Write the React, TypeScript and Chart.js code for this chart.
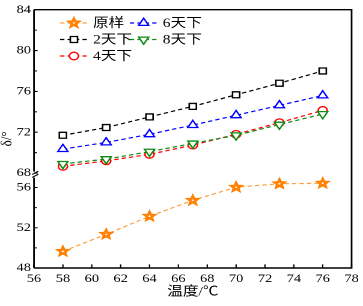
import React, { useEffect, useRef } from "react";
import { Chart, registerables } from "chart.js";

Chart.register(...registerables);

// ---- data ----
const temperatures = [58, 61, 64, 67, 70, 73, 76];
const original = [49.65, 51.35, 53.14, 54.72, 56.03, 56.37, 56.42];
const day2 = [71.7, 72.46, 73.5, 74.53, 75.67, 76.8, 78.0];
const day4 = [68.66, 69.2, 69.83, 70.74, 71.8, 72.94, 74.14];
const day6 = [70.35, 71.0, 71.8, 72.7, 73.66, 74.63, 75.6];
const day8 = [68.9, 69.37, 70.1, 70.9, 71.7, 72.75, 73.78];

const seriesLabels = ["原样", "2天下", "4天下", "6天下", "8天下"];
const xTickValues = [56, 58, 60, 62, 64, 66, 68, 70, 72, 74, 76, 78];
const upperTickValues = [68, 72, 76, 80, 84];
const upperMinorTicks = [70, 74, 78, 82];
const lowerTickValues = [48, 52, 56];
const lowerMinorTicks = [50, 54];
const xTitle = "温度/℃";
const yTitle = "δ/°";

// ---- styles ----
const W = 302;
const H = 306;
const SX = 363 / W;
const FONT = "'Liberation Serif', 'Noto Sans CJK SC', serif";
const ORANGE_LINE = "#FFA040";
const ORANGE = "#FF8000";
const BLACK = "#000000";
const RED = "#FF0000";
const BLUE = "#0000FF";
const GREEN = "#108A10";
const DASH = [3.6, 2.6];

function toPoints(arr: number[]) {
  return temperatures.map((t, i) => ({ x: t, y: arr[i] }));
}

function starPath(ctx: CanvasRenderingContext2D, x: number, y: number, R: number, r: number) {
  ctx.beginPath();
  for (let i = 0; i < 10; i++) {
    const a = -Math.PI / 2 + (i * Math.PI) / 5;
    const rad = i % 2 === 0 ? R : r;
    const px = x + rad * Math.cos(a);
    const py = y + rad * Math.sin(a);
    if (i === 0) ctx.moveTo(px, py);
    else ctx.lineTo(px, py);
  }
  ctx.closePath();
}

function drawStar(ctx: CanvasRenderingContext2D, x: number, y: number) {
  ctx.save();
  ctx.setLineDash([]);
  starPath(ctx, x, y, 5.2, 2.3);
  ctx.fillStyle = "#FFFFFF";
  ctx.fill();
  ctx.lineWidth = 1.5;
  ctx.strokeStyle = ORANGE;
  ctx.lineJoin = "miter";
  ctx.stroke();
  starPath(ctx, x, y, 2.4, 1.1);
  ctx.lineWidth = 0.9;
  ctx.stroke();
  ctx.restore();
}

function drawMarker(ctx: CanvasRenderingContext2D, kind: string, x: number, y: number, color: string) {
  if (kind === "star") {
    drawStar(ctx, x, y);
    return;
  }
  ctx.save();
  ctx.setLineDash([]);
  ctx.strokeStyle = color;
  ctx.fillStyle = "#FFFFFF";
  ctx.lineWidth = 1.3;
  ctx.beginPath();
  if (kind === "rect") {
    const h = 3;
    ctx.rect(x - h, y - h, 2 * h, 2 * h);
  } else if (kind === "circle") {
    ctx.arc(x, y, 3.8, 0, Math.PI * 2);
  } else if (kind === "triangle" || kind === "invtriangle") {
    const r = 4.8;
    let a = kind === "triangle" ? 0 : Math.PI;
    for (let i = 0; i < 3; i++) {
      const px = x + Math.sin(a) * r;
      const py = y - Math.cos(a) * r;
      if (i === 0) ctx.moveTo(px, py);
      else ctx.lineTo(px, py);
      a += (2 * Math.PI) / 3;
    }
    ctx.closePath();
  }
  ctx.fill();
  ctx.stroke();
  ctx.restore();
}

const legendItems = [
  { label: seriesLabels[0], kind: "star", line: ORANGE_LINE, color: ORANGE, col: 0, row: 0 },
  { label: seriesLabels[1], kind: "rect", line: BLACK, color: BLACK, col: 0, row: 1 },
  { label: seriesLabels[2], kind: "circle", line: RED, color: RED, col: 0, row: 2 },
  { label: seriesLabels[3], kind: "triangle", line: BLUE, color: BLUE, col: 1, row: 0 },
  { label: seriesLabels[4], kind: "invtriangle", line: GREEN, color: GREEN, col: 1, row: 1 },
];

const decorPlugin = {
  id: "decor",
  afterDatasetsDraw(chart: any) {
    const ctx = chart.ctx;
    const meta = chart.getDatasetMeta(0);
    meta.data.forEach((pt: any) => drawStar(ctx, pt.x, pt.y));
  },
  afterDraw(chart: any) {
    const ctx: CanvasRenderingContext2D = chart.ctx;
    const ca = chart.chartArea;
    const yUp = chart.scales.yUp;
    const yLow = chart.scales.yLow;
    const xs = chart.scales.x;
    const breakY = yUp.bottom;

    ctx.save();
    ctx.strokeStyle = "#000";
    ctx.lineWidth = 1.4;
    ctx.setLineDash([]);
    ctx.lineCap = "butt";
    // frame top, right, bottom
    ctx.beginPath();
    ctx.moveTo(ca.left, ca.top);
    ctx.lineTo(ca.right, ca.top);
    ctx.lineTo(ca.right, ca.bottom);
    ctx.lineTo(ca.left, ca.bottom);
    ctx.stroke();
    // left axis with break
    ctx.beginPath();
    ctx.moveTo(ca.left, ca.top);
    ctx.lineTo(ca.left, breakY - 3);
    ctx.moveTo(ca.left, breakY + 3);
    ctx.lineTo(ca.left, ca.bottom);
    ctx.stroke();
    // break marks
    ctx.lineWidth = 1.1;
    ctx.beginPath();
    ctx.moveTo(ca.left - 1.5, breakY - 0.2);
    ctx.lineTo(ca.left + 3.5, breakY - 3.4);
    ctx.moveTo(ca.left - 1.5, breakY + 2.8);
    ctx.lineTo(ca.left + 3.5, breakY - 0.4);
    ctx.stroke();

    // inward ticks
    ctx.lineWidth = 1.1;
    ctx.beginPath();
    xTickValues.forEach((v) => {
      const px = xs.getPixelForValue(v);
      ctx.moveTo(px, ca.bottom);
      ctx.lineTo(px, ca.bottom - 3.6);
    });
    const yTick = (scale: any, v: number, len: number) => {
      const py = scale.getPixelForValue(v);
      ctx.moveTo(ca.left, py);
      ctx.lineTo(ca.left + len, py);
    };
    upperTickValues.forEach((v) => yTick(yUp, v, 3));
    upperMinorTicks.forEach((v) => yTick(yUp, v, 2.2));
    lowerTickValues.forEach((v) => yTick(yLow, v, 3));
    lowerMinorTicks.forEach((v) => yTick(yLow, v, 2.2));
    ctx.stroke();

    // y title
    ctx.save();
    ctx.translate(6, (ca.top + ca.bottom) / 2);
    ctx.rotate(-Math.PI / 2);
    ctx.fillStyle = "#000";
    ctx.font = `13px ${FONT}`;
    ctx.textAlign = "center";
    ctx.textBaseline = "middle";
    ctx.fillText(yTitle, 0, 0);
    ctx.restore();

    // legend
    const colLine = [
      { x0: 50, x1: 73, xm: 61.5, tx: 77.4 },
      { x0: 108, x1: 131, xm: 119.5, tx: 135.4 },
    ];
    const rowY = [23, 39.5, 56];
    legendItems.forEach((it) => {
      const c = colLine[it.col];
      const y = rowY[it.row];
      ctx.save();
      ctx.strokeStyle = it.line;
      ctx.lineWidth = 1.2;
      ctx.setLineDash(DASH);
      ctx.beginPath();
      ctx.moveTo(c.x0, y);
      ctx.lineTo(c.x1, y);
      ctx.stroke();
      ctx.restore();
      drawMarker(ctx, it.kind, c.xm, y, it.color);
      ctx.fillStyle = "#000";
      ctx.font = `13px ${FONT}`;
      ctx.textAlign = "left";
      ctx.textBaseline = "middle";
      ctx.fillText(it.label, c.tx, y + 0.5);
    });
    ctx.restore();
  },
};

export default function App() {
  const canvasRef = useRef<HTMLCanvasElement>(null);

  useEffect(() => {
    document.body.style.margin = "0";
    document.body.style.overflow = "hidden";
    const canvas = canvasRef.current;
    if (!canvas) return;

    const tickFont = { family: FONT, size: 12 };
    const common = {
      borderWidth: 1.2,
      borderDash: DASH,
      pointBackgroundColor: "#FFFFFF",
      pointBorderWidth: 1.3,
      fill: false,
      tension: 0,
    };

    const chart = new Chart(canvas, {
      type: "line",
      data: {
        datasets: [
          {
            ...common,
            label: seriesLabels[0],
            data: toPoints(original),
            yAxisID: "yLow",
            borderColor: ORANGE_LINE,
            pointRadius: 0,
            pointHoverRadius: 0,
            order: 1,
          },
          {
            ...common,
            label: seriesLabels[1],
            data: toPoints(day2),
            yAxisID: "yUp",
            borderColor: BLACK,
            pointBorderColor: BLACK,
            pointStyle: "rect",
            pointRadius: 4.2,
            order: 2,
          },
          {
            ...common,
            label: seriesLabels[2],
            data: toPoints(day4),
            yAxisID: "yUp",
            borderColor: RED,
            pointBorderColor: RED,
            pointStyle: "circle",
            pointRadius: 3.8,
            order: 5,
          },
          {
            ...common,
            label: seriesLabels[3],
            data: toPoints(day6),
            yAxisID: "yUp",
            borderColor: BLUE,
            pointBorderColor: BLUE,
            pointStyle: "triangle",
            pointRadius: 4.8,
            order: 3,
          },
          {
            ...common,
            label: seriesLabels[4],
            data: toPoints(day8),
            yAxisID: "yUp",
            borderColor: GREEN,
            pointBorderColor: GREEN,
            pointStyle: "triangle",
            pointRotation: 180,
            pointRadius: 4.8,
            order: 4,
          },
        ] as any,
      },
      options: {
        responsive: false,
        animation: false,
        devicePixelRatio: 2,
        events: [],
        layout: { padding: { top: 8, right: 6.7, left: 0, bottom: 0 } },
        plugins: {
          legend: { display: false },
          tooltip: { enabled: false },
        },
        scales: {
          x: {
            type: "linear",
            min: 56,
            max: 78,
            afterBuildTicks: (s: any) => {
              s.ticks = xTickValues.map((v) => ({ value: v }));
            },
            afterFit: (s: any) => {
              s.height = 38;
            },
            ticks: { font: tickFont, color: "#000", padding: 3.5, maxRotation: 0, autoSkip: false },
            grid: { display: false, drawTicks: false },
            border: { display: false },
            title: {
              display: true,
              text: xTitle,
              color: "#000",
              font: { family: FONT, size: 13, lineHeight: 1.2 },
              padding: { top: 0, bottom: 6.2 },
            },
          },
          yLow: {
            type: "linear",
            position: "left",
            stack: "y",
            stackWeight: 94,
            min: 48,
            max: 57.28,
            afterBuildTicks: (s: any) => {
              s.ticks = lowerTickValues.map((v) => ({ value: v }));
            },
            afterFit: (s: any) => {
              s.width = 28.3;
            },
            ticks: { font: tickFont, color: "#000", padding: 2.5, autoSkip: false },
            grid: { display: false, drawTicks: false },
            border: { display: false },
          },
          yUp: {
            type: "linear",
            position: "left",
            stack: "y",
            stackWeight: 166,
            min: 67.85,
            max: 84,
            afterBuildTicks: (s: any) => {
              s.ticks = upperTickValues.map((v) => ({ value: v }));
            },
            afterFit: (s: any) => {
              s.width = 28.3;
            },
            ticks: { font: tickFont, color: "#000", padding: 2.5, autoSkip: false },
            grid: { display: false, drawTicks: false },
            border: { display: false },
          },
        } as any,
      },
      plugins: [decorPlugin],
    });

    return () => chart.destroy();
  }, []);

  return (
    <div style={{ position: "absolute", left: 0, top: 0, width: 363, height: H, overflow: "hidden", background: "#fff" }}>
      <div style={{ width: W, height: H, transform: `scaleX(${SX})`, transformOrigin: "0 0" }}>
        <canvas ref={canvasRef} width={W} height={H} style={{ display: "block" }} />
      </div>
    </div>
  );
}
